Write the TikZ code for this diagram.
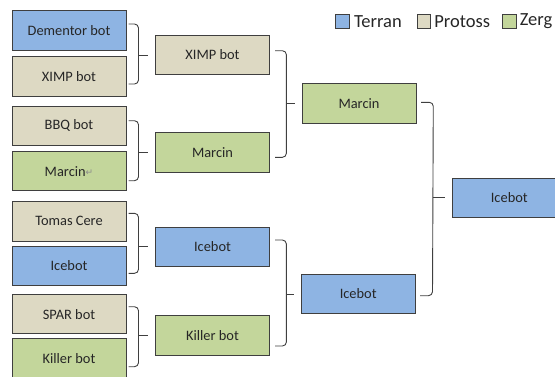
\documentclass[tikz,border=0pt]{standalone}
\usepackage{fontspec}
\setmainfont{Carlito}
\newfontfamily\symfont{DejaVu Sans}
\usetikzlibrary{calc}

\definecolor{terran}{HTML}{8EB4E3}
\definecolor{protoss}{HTML}{DDD9C3}
\definecolor{zerg}{HTML}{C3D69B}
\definecolor{edgegray}{HTML}{3F3F3F}
\definecolor{ink}{HTML}{262626}

\tikzset{
  bot/.style={draw=edgegray, line width=1pt, minimum width=114pt, minimum height=39.5pt,
    inner sep=0pt, font=\fontsize{14.4}{16}\selectfont, text=ink},
  terranbot/.style={bot, fill=terran},
  protossbot/.style={bot, fill=protoss},
  zergbot/.style={bot, fill=zerg},
  bracketline/.style={draw=edgegray, line width=0.9pt, rounded corners=4pt},
  tipline/.style={draw=edgegray, line width=0.9pt},
  keybox/.style={draw=edgegray, line width=1pt, minimum width=13.5pt, minimum height=14pt, inner sep=0pt},
  keytext/.style={font=\fontsize{18.5}{20}\selectfont, text=ink, inner sep=0pt, anchor=west}
}

% #1 upper node, #2 lower node, #3 winner node,
% #4 start offset, #5 spine offset (from the box edge), #6 rise above, #7 drop below
\newcommand\joinpair[7]{%
  \draw[bracketline] ($(#1.east)+(#4pt,#6pt)$) -- ($(#1.east)+(#5pt,#6pt)$)
     -- ($(#2.east)+(#5pt,-#7pt)$) -- ($(#2.east)+(#4pt,-#7pt)$);
  \coordinate (spine) at ($(#1.east)+(#5pt,0pt)$);
  \draw[tipline] (spine |- #3.west) -- ($(#3.west)+(-7pt,0pt)$);
}

\begin{document}
\begin{tikzpicture}[x=1pt, y=-1pt]
  \path[use as bounding box, clip] (0,0) rectangle (555,376);

  % first round
  \node[terranbot]  (dem)     at (69,30.7)  {Dementor bot};
  \node[protossbot] (ximpa)   at (69,76.6)  {XIMP bot};
  \node[protossbot] (bbq)     at (69,125.9) {BBQ bot};
  \node[zergbot]    (marcina) at (69,171.2) {Marcin\raisebox{0.5pt}{\symfont\fontsize{9}{9}\selectfont\color{black!45}↵}};
  \node[protossbot] (tomas)   at (69,221.3) {Tomas Cere};
  \node[terranbot]  (icea)    at (69,266)   {Icebot};
  \node[protossbot] (spar)    at (69,314.2) {SPAR bot};
  \node[zergbot]    (killera) at (69,358.5) {Killer bot};

  % second round
  \node[protossbot] (ximpb)   at (212.5,55)    {XIMP bot};
  \node[zergbot]    (marcinb) at (212.5,152.5) {Marcin};
  \node[terranbot]  (iceb)    at (212.5,246.8) {Icebot};
  \node[zergbot]    (killerb) at (212.5,335.7) {Killer bot};

  % third round
  \node[zergbot]    (marcinc) at (359,103.3) {Marcin};
  \node[terranbot]  (icec)    at (358.2,294) {Icebot};

  % winner
  \node[terranbot]  (iced)    at (509.3,197.8) {Icebot};

  % brackets
  \joinpair{dem}{ximpa}{ximpb}{2}{12}{6.7}{7.4}
  \joinpair{bbq}{marcina}{marcinb}{2}{12}{5.2}{9.5}
  \joinpair{tomas}{icea}{iceb}{2}{12}{8}{7.3}
  \joinpair{spar}{killera}{killerb}{2}{12}{7.5}{8.2}
  \joinpair{ximpb}{marcinb}{marcinc}{5}{16.4}{4.3}{4.8}
  \joinpair{iceb}{killerb}{icec}{5}{16.4}{6.8}{10.3}
  \joinpair{marcinc}{icec}{iced}{4.5}{16.8}{1}{1.7}

  % legend
  \node[keybox, fill=terran]  (kt) at (342.6,21.2) {};
  \node[keytext] (lt) at ([xshift=4pt]kt.east) {Terran};
  \node[keybox, fill=protoss] (kp) at (423.9,21.2) {};
  \node[keytext] (lp) at ([xshift=3pt]kp.east) {Protoss};
  \node[keybox, fill=zerg]    (kz) at (509.3,21.2) {};
  \node[keytext] (lz) at ([xshift=3pt]kz.east) {Zerg};
\end{tikzpicture}
\end{document}
